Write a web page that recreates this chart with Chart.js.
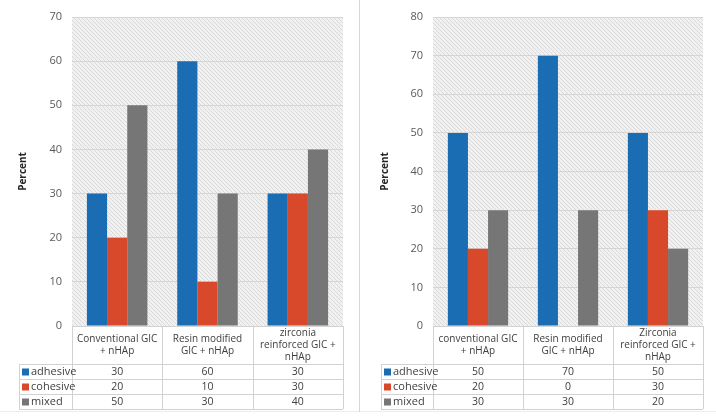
<!DOCTYPE html>
<html>
<head>
<meta charset="utf-8">
<script src="https://cdn.jsdelivr.net/npm/chart.js@4.4.1/dist/chart.umd.min.js"></script>
<style>
	body { margin: 0; background: #fff; }
	#wrap { position: relative; width: 716px; height: 420px; }
	.panel { position: absolute; top: 0; width: 358px; height: 420px; }
	#left { left: 0; }
	#right { left: 358px; }
	#divider { position: absolute; left: 359px; top: 0; width: 1px; height: 412px; background: #d6d6d6; }
</style>
</head>
<body>
<div id="wrap">
	<div class="panel" id="left"><canvas id="chartLeft" width="358" height="420"></canvas></div>
	<div class="panel" id="right"><canvas id="chartRight" width="358" height="420"></canvas></div>
	<div id="divider"></div>
</div>
<script>
const seriesNames = ["adhesive", "cohesive", "mixed"];

const leftCategories = [
	["Conventional GIC", "+ nHAp"],
	["Resin modified", "GIC + nHAp"],
	["zirconia", "reinforced GIC +", "nHAp"],
];
const leftAdhesive = [30, 60, 30];
const leftCohesive = [20, 10, 30];
const leftMixed = [50, 30, 40];

const rightCategories = [
	["conventional GIC", "+ nHAp"],
	["Resin modified", "GIC + nHAp"],
	["Zirconia", "reinforced GIC +", "nHAp"],
];
const rightAdhesive = [50, 70, 50];
const rightCohesive = [20, 0, 30];
const rightMixed = [30, 30, 20];

const blue = "#1b6db3";
const orange = "#d8482a";
const gray = "#767676";
const seriesColors = [blue, orange, gray];

const font = "'Open Sans', 'Noto Sans', sans-serif";
const textColor = "#404040";
const borderColor = "#d2d2d2";

function makeHatch() {
	const c = document.createElement("canvas");
	c.width = 4;
	c.height = 4;
	const g = c.getContext("2d");
	g.fillStyle = "#f1f1f1";
	g.fillRect(0, 0, 4, 4);
	g.strokeStyle = "#d9d9d9";
	g.lineWidth = 1;
	g.beginPath();
	g.moveTo(-1, -1);
	g.lineTo(5, 5);
	g.moveTo(-1, 3);
	g.lineTo(1, 5);
	g.moveTo(3, -1);
	g.lineTo(5, 1);
	g.stroke();
	return g.createPattern(c, "repeat");
}

const hatchBackground = {
	id: "hatchBackground",
	beforeDraw(chart) {
		const { ctx, chartArea } = chart;
		ctx.save();
		ctx.fillStyle = makeHatch();
		ctx.fillRect(chartArea.left, chartArea.top, chartArea.right - chartArea.left, chartArea.bottom - chartArea.top);
		ctx.restore();
	},
};

// data table under the plot, aligned to the x scale
const dataTable = {
	id: "dataTable",
	afterDraw(chart, args, opts) {
		const { ctx, chartArea } = chart;
		const x = chart.scales.x;
		const labels = chart.data.labels;
		const n = labels.length;
		const cw = (chartArea.right - chartArea.left) / n;
		const top = chartArea.bottom;
		const headH = 38;
		const rowH = 15;
		const legendLeft = opts.legendLeft;
		const rowsTop = top + headH;
		const bottom = rowsTop + rowH * chart.data.datasets.length;

		ctx.save();
		ctx.strokeStyle = borderColor;
		ctx.lineWidth = 1;
		ctx.beginPath();
		// vertical lines
		for (let i = 0; i <= n; i++) {
			const vx = Math.round(chartArea.left + cw * i) + 0.5;
			ctx.moveTo(vx, top);
			ctx.lineTo(vx, bottom);
		}
		ctx.moveTo(legendLeft + 0.5, rowsTop);
		ctx.lineTo(legendLeft + 0.5, bottom);
		// horizontal lines
		ctx.moveTo(chartArea.left, top + 0.5);
		ctx.lineTo(chartArea.right, top + 0.5);
		for (let r = 0; r <= chart.data.datasets.length; r++) {
			const hy = Math.round(rowsTop + rowH * r) + 0.5;
			ctx.moveTo(legendLeft, hy);
			ctx.lineTo(chartArea.right, hy);
		}
		ctx.stroke();

		// faint panel bottom edge
		ctx.strokeStyle = "#ececec";
		ctx.beginPath();
		ctx.moveTo(0, bottom + 2.5);
		ctx.lineTo(chart.width, bottom + 2.5);
		ctx.stroke();

		ctx.fillStyle = textColor;
		ctx.font = "10px " + font;
		ctx.textAlign = "center";
		ctx.textBaseline = "middle";
		labels.forEach((lab, i) => {
			const cx = x.getPixelForValue(i);
			const lines = Array.isArray(lab) ? lab : [lab];
			const lh = 12;
			const y0 = top + headH / 2 - ((lines.length - 1) * lh) / 2;
			lines.forEach((ln, k) => ctx.fillText(ln, cx, y0 + k * lh));
		});

		chart.data.datasets.forEach((ds, r) => {
			const cy = rowsTop + rowH * r + rowH / 2 + 0.5;
			ctx.fillStyle = ds.backgroundColor;
			ctx.fillRect(legendLeft + 3, cy - 3.5, 7, 7);
			ctx.fillStyle = textColor;
			ctx.textAlign = "left";
			ctx.font = "11px " + font;
			ctx.fillText(ds.label, legendLeft + 12, cy);
			ctx.textAlign = "center";
			ctx.font = "10.5px " + font;
			ds.data.forEach((v, i) => ctx.fillText(String(v), x.getPixelForValue(i), cy));
		});
		ctx.restore();
	},
};

function renderPanel(canvasId, categories, adhesive, cohesive, mixed, yMax, axisWidth, padLeft, padRight, legendLeft) {
	const ctx = document.getElementById(canvasId);
	const values = [adhesive, cohesive, mixed];
	return new Chart(ctx, {
		type: "bar",
		data: {
			labels: categories,
			datasets: seriesNames.map((name, i) => ({
				label: name,
				data: values[i],
				backgroundColor: seriesColors[i],
				borderWidth: 0,
				categoryPercentage: 0.67,
				barPercentage: 1,
			})),
		},
		options: {
			responsive: false,
			animation: false,
			layout: { padding: { left: padLeft, right: padRight, top: 17, bottom: 94 } },
			plugins: {
				legend: { display: false },
				tooltip: { enabled: false },
				dataTable: { legendLeft: legendLeft },
			},
			scales: {
				x: { display: false },
				y: {
					min: 0,
					max: yMax,
					ticks: { stepSize: 10, color: "#595959", font: { family: font, size: 11 }, padding: 10 },
					grid: { color: "#d6d6d6", drawTicks: false },
					border: { display: false },
					title: {
						display: true,
						text: "Percent",
						color: "#262626",
						font: { family: font, size: 10, weight: "bold" },
					},
					afterFit(scale) {
						scale.width = axisWidth;
					},
				},
			},
		},
		plugins: [hatchBackground, dataTable],
	});
}

renderPanel("chartLeft", leftCategories, leftAdhesive, leftCohesive, leftMixed, 70, 59, 13, 15, 19);
renderPanel("chartRight", rightCategories, rightAdhesive, rightCohesive, rightMixed, 80, 58, 17, 13, 23);
</script>
</body>
</html>
